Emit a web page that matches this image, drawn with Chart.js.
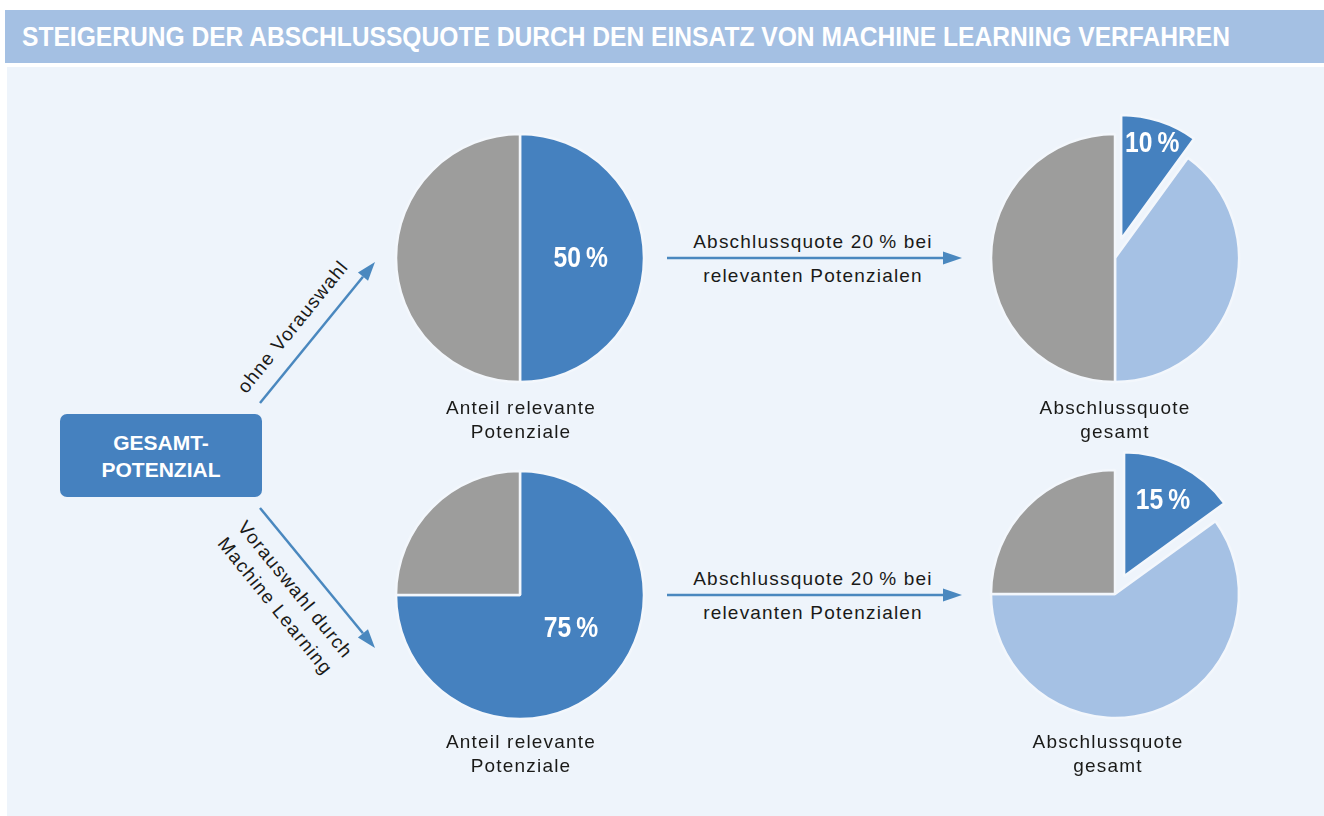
<!DOCTYPE html>
<html lang="de">
<head>
<meta charset="utf-8">
<title>Steigerung der Abschlussquote</title>
<script src="https://cdn.jsdelivr.net/npm/chart.js@4.4.1/dist/chart.umd.min.js"></script>
<style>
  body { margin: 0; width: 1324px; height: 816px; position: relative; overflow: hidden; background: #fff;
         font-family: "Liberation Sans", Arial, sans-serif; color: #1a1a18; }
  #titlebar { position: absolute; left: 5px; top: 10px; width: 1319px; height: 53px; background: #a4c0e3; }
  #titlebar span { position: absolute; left: 17px; top: 1px; line-height: 53px; color: #fff; font-weight: bold;
                   font-size: 27px; white-space: nowrap; transform-origin: left center; }
  #panel { position: absolute; left: 7px; top: 67px; width: 1317px; height: 749px; background: #eef4fb; }
  canvas.pie { position: absolute; }
  .txt { position: absolute; font-size: 19px; letter-spacing: 1.2px; line-height: 24px; text-align: center;
         white-space: nowrap; transform: translate(-50%, -50%); }
  #box { position: absolute; left: 60px; top: 414px; width: 202px; height: 83px; border-radius: 7px;
         background: #4581bf; color: #fff; font-weight: bold; font-size: 21px; line-height: 27px;
         display: flex; align-items: center; justify-content: center; text-align: center; }
  svg { position: absolute; left: 0; top: 0; }
</style>
</head>
<body>
<div id="titlebar"><span id="title">STEIGERUNG DER ABSCHLUSSQUOTE DURCH DEN EINSATZ VON MACHINE LEARNING VERFAHREN</span></div>
<div id="panel"></div>

<svg width="1324" height="816" id="arrows"></svg>

<div id="box">GESAMT-<br>POTENZIAL</div>
<div class="txt" style="left:293px; top:327px; transform: translate(-50%,-50%) rotate(-51deg);">ohne Vorauswahl</div>
<div class="txt" style="left:285px; top:598px; line-height:26px; transform: translate(-50%,-50%) rotate(51deg);">Vorauswahl durch<br>Machine Learning</div>

<canvas class="pie" id="pie1" width="300" height="300" style="left:370px; top:108px;"></canvas>
<canvas class="pie" id="pie2" width="300" height="300" style="left:370px; top:445px;"></canvas>
<canvas class="pie" id="pie3" width="300" height="300" style="left:965px; top:108px;"></canvas>
<canvas class="pie" id="pie4" width="300" height="300" style="left:965px; top:444px;"></canvas>

<div class="txt" style="left:521px; top:420px;">Anteil relevante<br>Potenziale</div>
<div class="txt" style="left:521px; top:754px;">Anteil relevante<br>Potenziale</div>
<div class="txt" style="left:1115px; top:420px;">Abschlussquote<br>gesamt</div>
<div class="txt" style="left:1108px; top:754px;">Abschlussquote<br>gesamt</div>

<div class="txt" style="left:813px; top:242px;">Abschlussquote 20&#8201;% bei</div>
<div class="txt" style="left:813px; top:276px;">relevanten Potenzialen</div>
<div class="txt" style="left:813px; top:579px;">Abschlussquote 20&#8201;% bei</div>
<div class="txt" style="left:813px; top:613px;">relevanten Potenzialen</div>

<script>
// data
const anteilLabels = ["Relevante Potenziale", "Nicht relevante Potenziale"];
const anteilOhne = [50, 50];
const anteilML = [75, 25];

const quoteLabels = ["Abschluss", "Relevant, kein Abschluss", "Nicht relevant"];
const quoteOhne = [10, 40, 50];
const quoteML = [15, 60, 25];

const blue = "#4581bf";
const lightBlue = "#a5c1e4";
const grey = "#9d9d9c";
const gap = "#f3f7fc";

// fit the title to the width it has in the original
const title = document.getElementById("title");
title.style.transform = "scaleX(" + (1208 / title.getBoundingClientRect().width) + ")";

// arrows
const svg = document.getElementById("arrows");
function arrow(x1, y1, x2, y2) {
  const a = Math.atan2(y2 - y1, x2 - x1);
  const len = 19, half = 6.5;
  const bx = x2 - Math.cos(a) * len, by = y2 - Math.sin(a) * len;
  const line = document.createElementNS("http://www.w3.org/2000/svg", "line");
  line.setAttribute("x1", x1); line.setAttribute("y1", y1);
  line.setAttribute("x2", bx); line.setAttribute("y2", by);
  line.setAttribute("stroke", "#4a88bf"); line.setAttribute("stroke-width", "2.5");
  svg.appendChild(line);
  const head = document.createElementNS("http://www.w3.org/2000/svg", "polygon");
  const pts = [
    [x2, y2],
    [bx - Math.sin(a) * half, by + Math.cos(a) * half],
    [bx + Math.sin(a) * half, by - Math.cos(a) * half]
  ];
  head.setAttribute("points", pts.map(p => p.join(",")).join(" "));
  head.setAttribute("fill", "#4a88bf");
  svg.appendChild(head);
}
arrow(260, 403, 375, 262);
arrow(260, 508, 375, 648);
arrow(667, 258, 962, 258);
arrow(667, 595, 962, 595);

// pull single slices out of the pie (plain translation)
const explodePlugin = {
  id: "explode",
  beforeDatasetsDraw(chart) {
    const dist = chart.data.datasets[0].explode || [];
    chart.getDatasetMeta(0).data.forEach((arc, i) => {
      const d = dist[i] || 0;
      if (!d || arc._exploded) return;
      arc._exploded = true;
      const base = Object.getPrototypeOf(arc).draw;
      arc.draw = function (ctx, area) {
        const mid = (this.startAngle + this.endAngle) / 2;
        ctx.save();
        ctx.translate(Math.cos(mid) * d, Math.sin(mid) * d);
        base.call(this, ctx, area);
        ctx.restore();
      };
    });
  }
};

// percentage label on the first slice
const pctLabel = {
  id: "pctLabel",
  afterDatasetsDraw(chart, args, opts) {
    const ds = chart.data.datasets[0];
    const arc = chart.getDatasetMeta(0).data[0];
    const mid = (arc.startAngle + arc.endAngle) / 2;
    const dir = opts.angle != null ? opts.angle * Math.PI / 180 - Math.PI / 2 : mid;
    const d = (ds.explode && ds.explode[0]) || 0;
    const x = arc.x + Math.cos(mid) * d + Math.cos(dir) * opts.dist * arc.outerRadius;
    const y = arc.y + Math.sin(mid) * d + Math.sin(dir) * opts.dist * arc.outerRadius;
    const ctx = chart.ctx;
    ctx.save();
    ctx.translate(x, y);
    ctx.scale(0.85, 1);
    ctx.font = "bold 29px 'Liberation Sans', Arial, sans-serif";
    ctx.fillStyle = "#fff";
    ctx.textAlign = "center";
    ctx.textBaseline = "middle";
    ctx.fillText(ds.data[0] + "\u2009%", 0, 1);
    ctx.restore();
  }
};

function makePie(id, labels, values, colors, explode, label) {
  return new Chart(document.getElementById(id), {
    type: "pie",
    data: {
      labels: labels,
      datasets: [{
        data: values,
        backgroundColor: colors,
        borderColor: gap,
        borderWidth: 2.5,
        explode: explode
      }]
    },
    options: {
      responsive: false,
      animation: false,
      events: [],
      radius: 124,
      layout: { padding: 0 },
      plugins: {
        legend: { display: false },
        tooltip: { enabled: false },
        pctLabel: label
      }
    },
    plugins: [explodePlugin, pctLabel]
  });
}

makePie("pie1", anteilLabels, anteilOhne, [blue, grey], [0, 0], { dist: 0.49 });
makePie("pie2", anteilLabels, anteilML, [blue, grey], [0, 0], { dist: 0.49, angle: 123 });
makePie("pie3", quoteLabels, quoteOhne, [blue, lightBlue, grey], [20, 0, 0], { dist: 0.81 });
makePie("pie4", quoteLabels, quoteML, [blue, lightBlue, grey], [20, 0, 0], { dist: 0.69 });
</script>
</body>
</html>
